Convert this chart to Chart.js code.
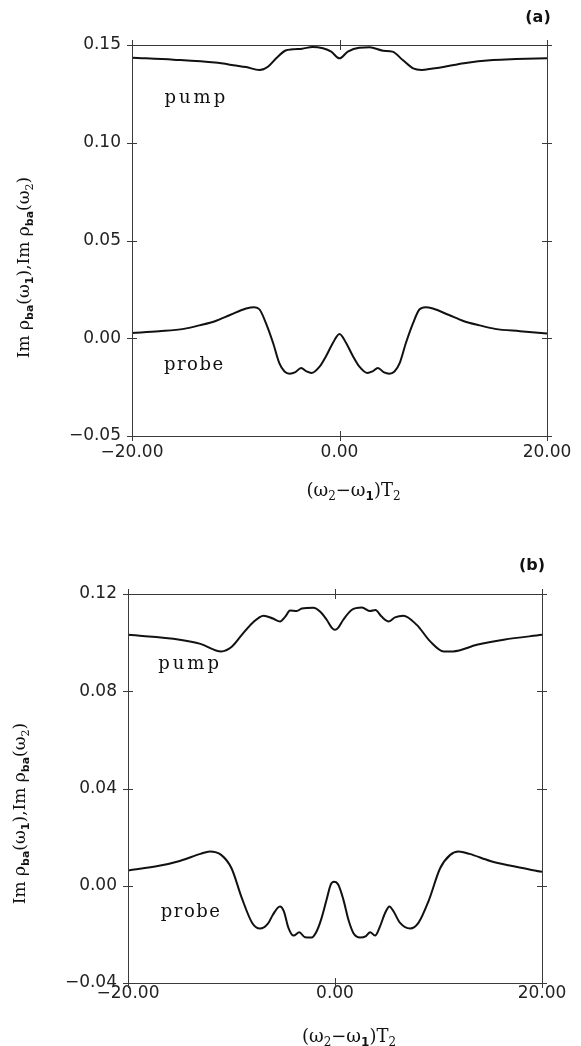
<!DOCTYPE html>
<html><head><meta charset="utf-8">
<script src="https://cdn.jsdelivr.net/npm/chart.js@4/dist/chart.umd.min.js"></script>
<style>
html,body{margin:0;padding:0;background:#fff;}
body{width:581px;height:1046px;position:relative;overflow:hidden;}
canvas{position:absolute;left:0;}
#ca{top:0;} #cb{top:520px;}
</style></head><body>
<canvas id="ca" width="581" height="520"></canvas>
<canvas id="cb" width="581" height="526"></canvas>
<script>
// ---------- data: panel (a) ----------
const xTicksA = [-20, 0, 20];
const yTicksA = [-0.05, 0.00, 0.05, 0.10, 0.15];
const pumpAx = [-20,-16,-12,-10,-9,-7.7,-6.9,-6.1,-5.2,-4.5,-3.6,-2.6,-1.6,-0.8,0,0.8,1.9,2.9,4.2,5.1,6.1,7.1,7.9,9,10,12,14.8,17,20];
const pumpAy = [0.1435,0.1425,0.1410,0.1395,0.1387,0.1372,0.1389,0.1432,0.1472,0.1478,0.1481,0.1490,0.1483,0.1466,0.1432,0.1466,0.1486,0.1488,0.1471,0.1466,0.1423,0.1380,0.1372,0.1380,0.1388,0.1407,0.1423,0.1428,0.1432];
const probeAx = [-20,-17.4,-15,-13.5,-12,-10.5,-9,-8.2,-7.7,-7.1,-6.4,-5.8,-5.3,-4.8,-4.3,-3.7,-3.2,-2.7,-1.9,-1.3,-0.64,0,0.64,1.3,1.9,2.7,3.2,3.7,4.3,4.8,5.3,5.8,6.4,7.1,7.7,8.3,9,10.5,12,13.5,15,17.4,20];
const probeAy = [0.0027,0.0036,0.0048,0.0066,0.0087,0.0120,0.0152,0.0159,0.0147,0.0079,-0.0024,-0.0127,-0.0170,-0.0181,-0.0175,-0.0152,-0.0169,-0.0178,-0.0144,-0.0092,-0.0024,0.0022,-0.0024,-0.0092,-0.0144,-0.0178,-0.0169,-0.0152,-0.0175,-0.0181,-0.0170,-0.0127,-0.0024,0.0079,0.0147,0.0159,0.0152,0.0120,0.0087,0.0066,0.0048,0.0036,0.0024];

// ---------- data: panel (b) ----------
const xTicksB = [-20, 0, 20];
const yTicksB = [-0.04, 0.00, 0.04, 0.08, 0.12];
const pumpBx = [-20,-15,-13,-11,-10,-9,-8,-6.9,-6,-5.3,-4.8,-4.35,-3.7,-3.2,-2.1,-1.45,-0.8,-0.32,0,0.32,0.8,1.6,2.6,3.4,3.9,4.5,5.2,5.8,6.6,7.9,9.2,10.5,11.4,13.7,16.3,20];
const pumpBy = [0.1032,0.1012,0.0995,0.0964,0.0982,0.1032,0.1080,0.1111,0.1099,0.1087,0.1107,0.1132,0.1130,0.1140,0.1143,0.1128,0.1094,0.1062,0.1053,0.1062,0.1094,0.1134,0.1144,0.1130,0.1134,0.1107,0.1087,0.1104,0.1111,0.1073,0.1005,0.0964,0.0964,0.0991,0.1012,0.1032];
const probeBx = [-20,-17,-15,-13,-12.1,-11,-10,-9,-8,-7.26,-6.48,-6,-5.32,-4.94,-4.5,-4,-3.45,-2.9,-2.26,-1.77,-1.29,-0.81,-0.42,-0.1,0.32,0.81,1.29,1.77,2.42,3,3.39,3.87,4.35,4.84,5.26,5.65,6.29,7.26,8.06,9.03,10.16,11.13,11.94,13,15,17,20];
const probeBy = [0.0063,0.0082,0.0102,0.0131,0.0141,0.0127,0.0072,-0.0051,-0.0153,-0.0176,-0.0156,-0.0119,-0.0085,-0.0105,-0.0173,-0.0205,-0.0191,-0.0212,-0.0213,-0.0187,-0.0132,-0.0057,0.0004,0.0016,0.0004,-0.0057,-0.0139,-0.0194,-0.0213,-0.0207,-0.0191,-0.0205,-0.0167,-0.0112,-0.0085,-0.0105,-0.0153,-0.0176,-0.0153,-0.0064,0.0072,0.0127,0.0141,0.0131,0.0102,0.0082,0.0057];

// curve labels (data coordinates)
const notesA = [{text:'pump', x:-13.8, y:0.1228, ls:'3px'}, {text:'probe', x:-14.0, y:-0.0140, ls:'1.5px'}];
const notesB = [{text:'pump', x:-14.0, y:0.0909, ls:'3px'}, {text:'probe', x:-13.9, y:-0.0111, ls:'1.5px'}];

// ---------- helpers ----------
function zip(xs, ys){ const n=Math.min(xs.length, ys.length); const o=[]; for(let i=0;i<n;i++) o.push({x:xs[i], y:ys[i]}); return o; }
function fmt(v){ if(Math.abs(v)<1e-9) v=0; return (v<0?'\u2212':'') + Math.abs(v).toFixed(2); }

const SERIF = '"DejaVu Serif", "Liberation Serif", serif';
const SANS = '"DejaVu Sans", "Liberation Sans", sans-serif';
const xTitle = [
  {t:'(\u03C9', f:'18px '+SERIF},
  {t:'2', f:'12px '+SERIF, dy:4},
  {t:'\u2212\u03C9', f:'18px '+SERIF},
  {t:'1', f:'bold 12px '+SANS, dy:4},
  {t:')T', f:'18px '+SERIF},
  {t:'2', f:'12px '+SERIF, dy:4}
];
const yTitle = [
  {t:'Im \u03C1', f:'17px '+SERIF},
  {t:'ba', f:'bold 11px '+SANS, dy:4},
  {t:'(\u03C9', f:'17px '+SERIF},
  {t:'1', f:'bold 11px '+SANS, dy:4},
  {t:'),Im \u03C1', f:'17px '+SERIF},
  {t:'ba', f:'bold 11px '+SANS, dy:4},
  {t:'(\u03C9', f:'17px '+SERIF},
  {t:'2', f:'11px '+SERIF, dy:4},
  {t:')', f:'17px '+SERIF}
];
function richWidth(ctx, segs){ let w=0; segs.forEach(s=>{ctx.font=s.f; w+=ctx.measureText(s.t).width;}); return w; }
function drawRich(ctx, segs, cx, y){
  let x = cx - richWidth(ctx, segs)/2;
  segs.forEach(s=>{ ctx.font=s.f; ctx.fillText(s.t, x, y+(s.dy||0)); x+=ctx.measureText(s.t).width; });
}

const deco = {
  id:'deco',
  afterDatasetsDraw(chart, args, o){
    const ctx = chart.ctx, a = chart.chartArea, xs = chart.scales.x, ys = chart.scales.y;
    ctx.save();
    ctx.strokeStyle = '#3a3a3a'; ctx.lineWidth = 1;
    ctx.strokeRect(Math.round(a.left)+0.5, Math.round(a.top)+0.5, Math.round(a.right-a.left), Math.round(a.bottom-a.top));
    ctx.beginPath();
    ys.ticks.forEach(t=>{ const py=Math.round(ys.getPixelForValue(t.value))+0.5;
      ctx.moveTo(a.left-5,py); ctx.lineTo(a.left+5,py); ctx.moveTo(a.right-5,py); ctx.lineTo(a.right+5,py); });
    xs.ticks.forEach(t=>{ const px=Math.round(xs.getPixelForValue(t.value))+0.5;
      ctx.moveTo(px,a.top-5); ctx.lineTo(px,a.top+5); ctx.moveTo(px,a.bottom-5); ctx.lineTo(px,a.bottom+5); });
    ctx.stroke();
    ctx.fillStyle = '#111';
    ctx.textAlign = 'center'; ctx.textBaseline = 'middle';
    o.notes.forEach(n=>{
      ctx.font = '18px '+SERIF;
      ctx.letterSpacing = n.ls;
      ctx.fillText(n.text, xs.getPixelForValue(n.x), ys.getPixelForValue(n.y));
    });
    ctx.letterSpacing = '0px';
    ctx.font = 'bold 16px '+SANS;
    ctx.fillText(o.letter, a.right+o.letterDx, a.top+o.letterDy);
    ctx.textAlign = 'left'; ctx.textBaseline = 'alphabetic';
    drawRich(ctx, xTitle, (a.left+a.right)/2 + o.xTitleDx, a.bottom + o.xTitleDy);
    ctx.translate(o.yTitleX, (a.top+a.bottom)/2 + o.yTitleDy);
    ctx.rotate(-Math.PI/2);
    drawRich(ctx, yTitle, 0, 0);
    ctx.restore();
  }
};

function makeChart(id, c){
  const tickFont = {family: SANS, size: 17};
  return new Chart(document.getElementById(id), {
    type: 'line',
    data: { datasets: [
      {data: zip(c.px, c.py)},
      {data: zip(c.qx, c.qy)}
    ]},
    plugins: [deco],
    options: {
      responsive: false, animation: false, devicePixelRatio: 1,
      layout: {padding: {top: c.top, right: c.padRight, left: 0, bottom: 0}},
      elements: {
        point: {radius: 0},
        line: {borderColor: '#111', borderWidth: 2, cubicInterpolationMode: 'monotone', fill: false}
      },
      plugins: {
        legend: {display: false}, tooltip: {enabled: false},
        deco: {notes: c.notes, letter: c.letter, letterDx: c.letterDx, letterDy: c.letterDy,
               xTitleDx: 14, xTitleDy: c.xTitleDy, yTitleX: c.yTitleX, yTitleDy: c.yTitleDy}
      },
      scales: {
        x: {
          type: 'linear', min: c.xt[0], max: c.xt[c.xt.length-1],
          afterBuildTicks: s => { s.ticks = c.xt.map(v=>({value:v})); },
          ticks: {callback: v => fmt(v), font: tickFont, color: '#222', padding: c.xPad, maxRotation: 0, autoSkip: false},
          grid: {display: false, drawTicks: false}, border: {display: false},
          afterFit: s => { s.height = c.h - c.bottom; }
        },
        y: {
          type: 'linear', min: c.yt[0], max: c.yt[c.yt.length-1],
          afterBuildTicks: s => { s.ticks = c.yt.map(v=>({value:v})); },
          ticks: {callback: v => fmt(v), font: tickFont, color: '#222', padding: 11, autoSkip: false},
          grid: {display: false, drawTicks: false}, border: {display: false},
          afterFit: s => { s.width = c.left; }
        }
      }
    }
  });
}

makeChart('ca', {px: pumpAx, py: pumpAy, qx: probeAx, qy: probeAy, xt: xTicksA, yt: yTicksA,
  h: 520, top: 45, bottom: 436, left: 132, padRight: 34, xPad: 6,
  notes: notesA, letter: '(a)', letterDx: -9, letterDy: -27, xTitleDy: 60, yTitleX: 29, yTitleDy: 27});
makeChart('cb', {px: pumpBx, py: pumpBy, qx: probeBx, qy: probeBy, xt: xTicksB, yt: yTicksB,
  h: 526, top: 74, bottom: 463, left: 128, padRight: 39, xPad: 0,
  notes: notesB, letter: '(b)', letterDx: -10, letterDy: -28, xTitleDy: 59, yTitleX: 25, yTitleDy: 25});
</script>
</body></html>
